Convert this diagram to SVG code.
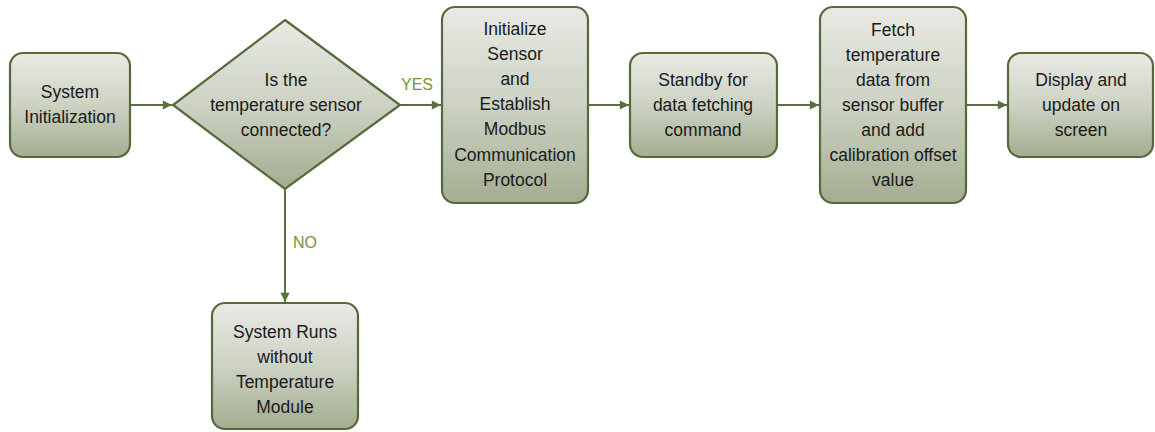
<svg xmlns="http://www.w3.org/2000/svg" width="1155" height="432" viewBox="0 0 1155 432">
<style>
.box{fill:url(#g);stroke:#56693A;stroke-width:2.2}
.t{font-family:"Liberation Sans",Arial,sans-serif;font-size:17.5px;fill:#1a1a1a;text-anchor:middle}
.lbl{font-family:"Liberation Sans",Arial,sans-serif;font-size:16px;fill:#76923C;text-anchor:start}
.c{stroke:#5B6F3C;stroke-width:2;fill:none;marker-end:url(#ah)}
</style>
<defs>
<linearGradient id="g" x1="0" y1="0" x2="0" y2="1">
<stop offset="0" stop-color="#E9EAE5"/>
<stop offset="0.5" stop-color="#CDD2C3"/>
<stop offset="1" stop-color="#A3AD90"/>
</linearGradient>
<marker id="ah" viewBox="0 0 10 10" refX="10" refY="5" markerWidth="5" markerHeight="4.6" markerUnits="strokeWidth" orient="auto">
<path d="M0,0 L10,5 L0,10 z" fill="#5B6F3C"/>
</marker>
</defs>
<g id="connectors">
<line class="c" x1="131" y1="105" x2="172" y2="105"/>
<line class="c" x1="400" y1="105" x2="441" y2="105"/>
<line class="c" x1="589" y1="105" x2="629" y2="105"/>
<line class="c" x1="778" y1="105" x2="819" y2="105"/>
<line class="c" x1="967" y1="105" x2="1007" y2="105"/>
<line class="c" x1="285" y1="189" x2="285" y2="302"/>
<text class="lbl" x="401" y="90">YES</text>
<text class="lbl" x="293" y="248">NO</text>
</g>
<g id="n1">
<rect class="box" x="10" y="53" width="120" height="104" rx="13"/>
<text class="t" x="70" y="98">System</text>
<text class="t" x="70" y="123">Initialization</text>
</g>
<g id="n2">
<polygon class="box" points="285,20 400,105 285,189 173,105"/>
<text class="t" x="286" y="86">Is the</text>
<text class="t" x="286" y="111">temperature sensor</text>
<text class="t" x="286" y="136">connected?</text>
</g>
<g id="n3">
<rect class="box" x="442" y="7" width="146" height="196" rx="13"/>
<text class="t" x="515" y="35">Initialize</text>
<text class="t" x="515" y="60">Sensor</text>
<text class="t" x="515" y="85">and</text>
<text class="t" x="515" y="110">Establish</text>
<text class="t" x="515" y="135">Modbus</text>
<text class="t" x="515" y="161">Communication</text>
<text class="t" x="515" y="186">Protocol</text>
</g>
<g id="n4">
<rect class="box" x="630" y="53" width="147" height="104" rx="13"/>
<text class="t" x="703" y="86">Standby for</text>
<text class="t" x="703" y="111">data fetching</text>
<text class="t" x="703" y="136">command</text>
</g>
<g id="n5">
<rect class="box" x="820" y="7" width="146" height="196" rx="13"/>
<text class="t" x="893" y="36">Fetch</text>
<text class="t" x="893" y="61">temperature</text>
<text class="t" x="893" y="86">data from</text>
<text class="t" x="893" y="111">sensor buffer</text>
<text class="t" x="893" y="136">and add</text>
<text class="t" x="893" y="161">calibration offset</text>
<text class="t" x="893" y="186">value</text>
</g>
<g id="n6">
<rect class="box" x="1008" y="53" width="145" height="104" rx="13"/>
<text class="t" x="1081" y="86">Display and</text>
<text class="t" x="1081" y="111">update on</text>
<text class="t" x="1081" y="136">screen</text>
</g>
<g id="n7">
<rect class="box" x="212" y="303" width="146" height="126" rx="13"/>
<text class="t" x="285" y="338">System Runs</text>
<text class="t" x="285" y="363">without</text>
<text class="t" x="285" y="388">Temperature</text>
<text class="t" x="285" y="413">Module</text>
</g>
</svg>
